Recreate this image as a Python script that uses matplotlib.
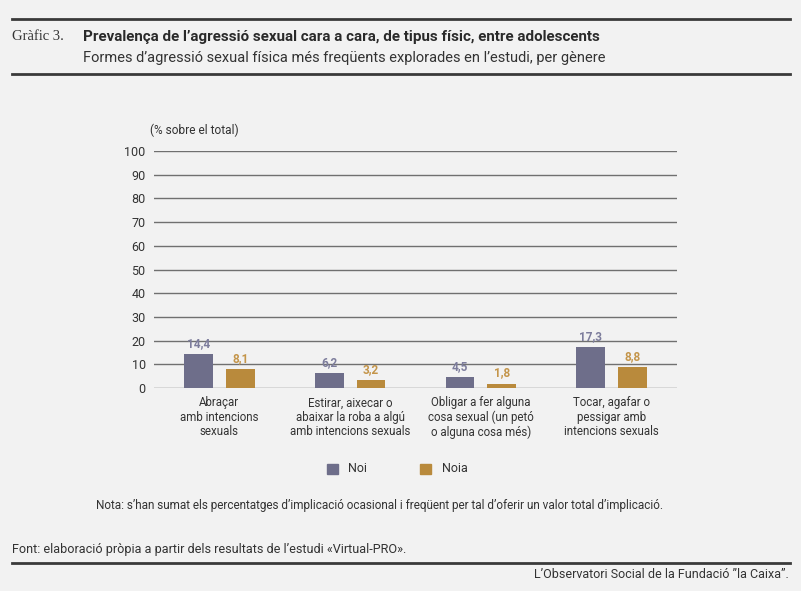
import matplotlib
matplotlib.use("Agg")
import matplotlib.pyplot as plt
from matplotlib.patches import Rectangle
import numpy as np

categories = ["Abraçar\namb intencions\nsexuals",
              "Estirar, aixecar o\nabaixar la roba a algú\namb intencions sexuals",
              "Obligar a fer alguna\ncosa sexual (un petó\no alguna cosa més)",
              "Tocar, agafar o\npessigar amb\nintencions sexuals"]
noi = [14.4, 6.2, 4.5, 17.3]
noia = [8.1, 3.2, 1.8, 8.8]
yticks = [0, 10, 20, 30, 40, 50, 60, 70, 80, 90, 100]

BG = "#f2f2f2"
C_NOI = "#6e6e8a"
C_NOIA = "#b98a3c"
L_NOI = "#7d7d9c"
L_NOIA = "#c4954a"
TXT = "#333333"

plt.rcParams['font.family'] = ['Roboto', 'DejaVu Sans']

W, H = 801, 591
fig = plt.figure(figsize=(W / 100, H / 100), dpi=100, facecolor=BG)

def fx(px):
    return px / W

def fy(py):
    return 1 - py / H

ax = fig.add_axes([fx(154), fy(388), fx(677) - fx(154), fy(151) - fy(388)])
ax.set_facecolor(BG)

x = np.arange(len(categories))
bw = 0.22
off = 0.16
ax.bar(x - off, noi, bw, color=C_NOI, zorder=3)
ax.bar(x + off, noia, bw, color=C_NOIA, zorder=3)

def fmt(v):
    return f"{v:.1f}".replace(".", ",")

for xi, v in zip(x, noi):
    ax.annotate(fmt(v), (xi - off, v), xytext=(0, 3), textcoords="offset points",
                ha="center", va="bottom", color=L_NOI, fontsize=8.5, fontweight="bold")
for xi, v in zip(x, noia):
    ax.annotate(fmt(v), (xi + off, v), xytext=(0, 3), textcoords="offset points",
                ha="center", va="bottom", color=L_NOIA, fontsize=8.5, fontweight="bold")

ax.set_xlim(-0.5, 3.5)
ax.set_ylim(0, 100)
ax.set_yticks(yticks)
ax.set_yticklabels([str(t) for t in yticks], fontsize=9, color=TXT)
ax.yaxis.grid(True, color="#707070", linewidth=1.0, zorder=0)
ax.set_axisbelow(True)
ax.tick_params(axis="y", length=0, pad=6)
ax.tick_params(axis="x", length=0, pad=6)
ax.set_xticks(x)
ax.set_xticklabels(categories, fontsize=8.3, color=TXT, linespacing=1.12)
for s in ax.spines.values():
    s.set_visible(False)

fig.text(fx(150), fy(130), "(% sobre el total)", fontsize=8.6, color=TXT,
         ha="left", va="center")

# legend
fig.patches.append(Rectangle((fx(327), fy(474)), fx(11), 10 / H, transform=fig.transFigure,
                             color=C_NOI))
fig.patches.append(Rectangle((fx(420), fy(474)), fx(11), 10 / H, transform=fig.transFigure,
                             color=C_NOIA))
fig.text(fx(348), fy(469), "Noi", fontsize=9, color=TXT, va="center", ha="left")
fig.text(fx(442), fy(469), "Noia", fontsize=9, color=TXT, va="center", ha="left")

# header
for yy in (19, 74):
    fig.lines.append(plt.Line2D([fx(12), fx(790)], [fy(yy), fy(yy)], transform=fig.transFigure,
                                color="#3a3a3a", linewidth=2))
fig.text(fx(12), fy(37), "Gràfic 3.", fontsize=10.5, color=TXT, va="center", ha="left",
         family="Liberation Serif")
fig.text(fx(83), fy(36.5), "Prevalença de l’agressió sexual cara a cara, de tipus físic, entre adolescents",
         fontsize=10.9, fontweight="bold", color="#2a2a2a", va="center", ha="left")
fig.text(fx(83), fy(58), "Formes d’agressió sexual física més freqüents explorades en l’estudi, per gènere",
         fontsize=10.5, color=TXT, va="center", ha="left")

# footer
fig.text(fx(380), fy(505), "Nota: s’han sumat els percentatges d’implicació ocasional i freqüent per tal d’oferir un valor total d’implicació.",
         fontsize=8.5, color=TXT, va="center", ha="center")
fig.text(fx(12), fy(549), "Font: elaboració pròpia a partir dels resultats de l’estudi «Virtual-PRO».",
         fontsize=9.1, color=TXT, va="center", ha="left")
fig.lines.append(plt.Line2D([fx(12), fx(790)], [fy(563), fy(563)], transform=fig.transFigure,
                            color="#3a3a3a", linewidth=2))
fig.text(fx(789), fy(575), "L’Observatori Social de la Fundació ”la Caixa”.",
         fontsize=9, color=TXT, va="center", ha="right")

fig.savefig("out.png", dpi=100, facecolor=BG)
